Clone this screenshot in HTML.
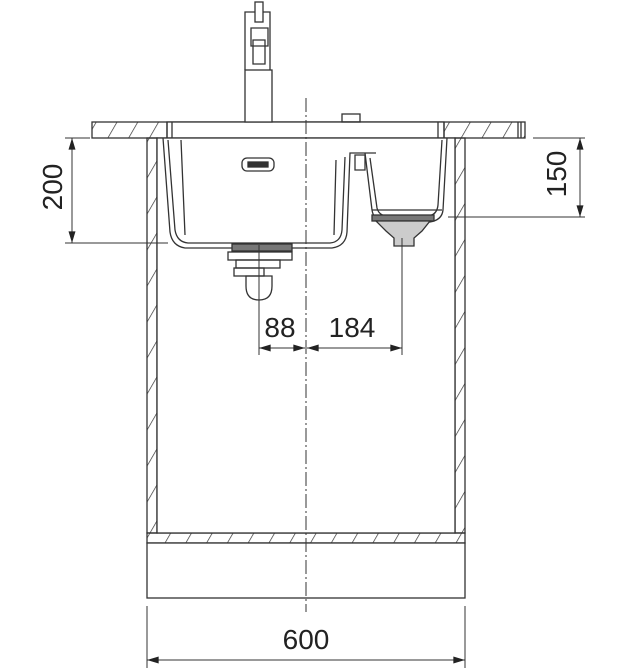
<!DOCTYPE html>
<html><head><style>html,body{margin:0;padding:0;background:#fff}svg{display:block}</style></head>
<body>
<svg width="625" height="670" viewBox="0 0 625 670" xmlns="http://www.w3.org/2000/svg" font-family="Liberation Sans, sans-serif">
<defs>
<pattern id="h" width="18" height="18" patternUnits="userSpaceOnUse" patternTransform="rotate(30)"><line x1="0" y1="0" x2="0" y2="18" stroke="#333" stroke-width="1.4"/></pattern>
<marker id="a" viewBox="0 0 10 6" refX="10" refY="3" markerWidth="12" markerHeight="7" orient="auto-start-reverse" markerUnits="userSpaceOnUse"><path d="M0,0L10,3L0,6z" fill="#222"/></marker>
</defs>
<g fill="none" stroke="#333" stroke-width="1.3">
<rect x="92" y="122" width="433" height="16" fill="url(#h)"/>
<rect x="167" y="122" width="277" height="16" fill="#fff"/>
<line x1="167" y1="122" x2="167" y2="138"/><line x1="444" y1="122" x2="444" y2="138"/>
<line x1="172" y1="122" x2="172" y2="138"/><line x1="438" y1="122" x2="438" y2="138"/>
<line x1="518" y1="122" x2="518" y2="138"/><line x1="521" y1="122" x2="521" y2="138"/>
<rect x="147" y="138" width="10" height="395" fill="url(#h)"/>
<rect x="455" y="138" width="10" height="395" fill="url(#h)"/>
<rect x="147" y="533" width="318" height="10" fill="url(#h)"/>
<rect x="157" y="138" width="298" height="395" fill="#fff" stroke="#333"/>
<rect x="147" y="543" width="318" height="55" fill="#fff"/>
<rect x="245" y="70" width="27" height="52" fill="#fff"/>
<path d="M245,70 V12 H270 V70"/>
<rect x="255" y="2" width="8" height="20" fill="#fff"/>
<path d="M251,28 h17 v18 h-17z M253,40 h12 v24 h-12z"/>
<rect x="342" y="114" width="18" height="8"/>
<path d="M163,138 L170,232 Q172,246 185,248 L332,248 Q346,246 347,232 L350,153 L376,153"/>
<path d="M168,140 L175,230 Q177,242 188,243 L330,243 Q341,242 342,230 L345,157"/>
<path d="M181,140 L185,235 M336,160 L334,235"/>
<rect x="242" y="158" width="32" height="13" rx="5"/>
<rect x="248" y="162" width="20" height="5" fill="#333"/>
<rect x="232" y="244" width="60" height="7" fill="#777"/>
<rect x="228" y="252" width="64" height="8"/>
<rect x="236" y="260" width="44" height="8"/>
<rect x="234" y="268" width="30" height="8"/>
<path d="M246,276 h26 v10 q0,14 -13,14 q-13,0 -13,-14z"/>
<path d="M365,153 L372,210 Q374,222 385,222 L430,222 Q442,220 443,210 L447,138"/>
<path d="M370,158 L377,208 Q379,216 388,216 L428,216 Q437,215 438,205 L442,140"/>
<line x1="372" y1="210" x2="442" y2="210"/>
<path d="M355,155 h10 v15 h-10z"/>
<rect x="372" y="215" width="62" height="6" fill="#777"/>
<path d="M376,221 h54 l-8,10 l-8,7 v8 h-20 v-8 l-8,-7z" fill="#ccc"/>
<line x1="259" y1="245" x2="259" y2="355" stroke-width="1"/>
<line x1="402" y1="238" x2="402" y2="355" stroke-width="1"/>
<line x1="65" y1="138" x2="90" y2="138" stroke-width="1"/>
<line x1="65" y1="243" x2="168" y2="243" stroke-width="1"/>
<line x1="533" y1="138" x2="585" y2="138" stroke-width="1"/>
<line x1="448" y1="217" x2="585" y2="217" stroke-width="1"/>
<line x1="147" y1="606" x2="147" y2="668" stroke-width="1"/>
<line x1="465" y1="606" x2="465" y2="668" stroke-width="1"/>
<line x1="72" y1="138" x2="72" y2="243" stroke-width="1" marker-start="url(#a)" marker-end="url(#a)"/>
<line x1="580" y1="138" x2="580" y2="217" stroke-width="1" marker-start="url(#a)" marker-end="url(#a)"/>
<line x1="147" y1="660" x2="465" y2="660" stroke-width="1" marker-start="url(#a)" marker-end="url(#a)"/>
<line x1="259" y1="348" x2="305" y2="348" stroke-width="1" marker-start="url(#a)" marker-end="url(#a)"/>
<line x1="307" y1="348" x2="402" y2="348" stroke-width="1" marker-start="url(#a)" marker-end="url(#a)"/>
<line x1="306" y1="98" x2="306" y2="612" stroke-width="1" stroke-dasharray="14,3,2,3"/>
</g>
<g fill="#222" font-size="28" text-anchor="middle">
<text x="280" y="337">88</text>
<text x="352" y="337">184</text>
<text x="306" y="649">600</text>
<text transform="translate(62,187) rotate(-90)">200</text>
<text transform="translate(566,174) rotate(-90)">150</text>
</g>
</svg>
</body></html>
